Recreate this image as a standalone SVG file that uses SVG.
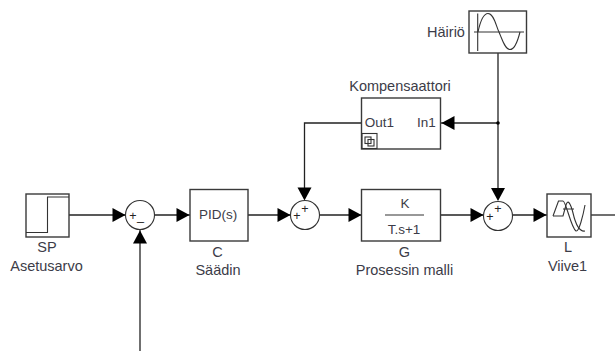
<svg xmlns="http://www.w3.org/2000/svg" width="615" height="351" viewBox="0 0 615 351">
<style>
.b{fill:#fff;stroke:#3a3a3a;stroke-width:1.4}
.s{fill:#fff;stroke:#333;stroke-width:1.1}
.i{fill:none;stroke:#333;stroke-width:1.1}
.w{fill:none;stroke:#222;stroke-width:1.3}
.a{fill:#000;stroke:none}
text{font-family:"Liberation Sans",Arial,sans-serif;font-size:14.5px;fill:#3c3c48;text-anchor:middle}
.p{font-size:13.5px}
.m{font-size:12.5px;fill:#222}
</style>
<defs>
<polygon id="ar" class="a" points="0,0 -13,-7 -13,7"/>
</defs>
<g id="connectors">
<path class="w" d="M498 53V190"/>
<path class="w" d="M498 123H441"/>
<path class="w" d="M361.500 123H304.500V190"/>
<path class="w" d="M69 215H126"/>
<path class="w" d="M154 215H190"/>
<path class="w" d="M248 215H291"/>
<path class="w" d="M319 215H362"/>
<path class="w" d="M441 215H484"/>
<path class="w" d="M512 215H547"/>
<path class="w" d="M591 215H615"/>
<path class="w" d="M140 351V230"/>
<circle cx="498" cy="123" r="1.800" fill="#000"/>
<use href="#ar" transform="translate(441.500 123) rotate(180)"/>
<use href="#ar" transform="translate(304.500 200.500) rotate(90)"/>
<use href="#ar" transform="translate(125.500 215)"/>
<use href="#ar" transform="translate(189.500 215)"/>
<use href="#ar" transform="translate(290.500 215)"/>
<use href="#ar" transform="translate(361.500 215)"/>
<use href="#ar" transform="translate(483.500 215)"/>
<use href="#ar" transform="translate(546.500 215)"/>
<use href="#ar" transform="translate(140 230.500) rotate(-90)"/>
<use href="#ar" transform="translate(498 201) rotate(90)"/>
</g>
<g id="hairio">
<rect class="b" x="469" y="11" width="57.500" height="42"/>
<path class="i" d="M477.700 13.500V51M474 32H524"/>
<path class="i" d="M478 32C481 18 484 13.500 488 13.500C494 13.500 496 26 499 32C502 39 505 49.500 510 49.500C515 49.500 518 40 520 32"/>
<text x="446" y="37">Häiriö</text>
</g>
<g id="kompensaattori">
<rect class="b" x="361.500" y="98" width="79" height="51"/>
<rect class="i" x="362" y="133.500" width="15" height="15"/>
<rect class="i" x="365" y="137" width="6" height="6.500"/>
<rect class="i" x="368" y="139.500" width="6" height="6.500"/>
<text x="400" y="90.500">Kompensaattori</text>
<text class="p" x="379.500" y="127">Out1</text>
<text class="p" x="426.500" y="127">In1</text>
</g>
<g id="sp">
<rect class="b" x="26" y="194" width="43" height="43"/>
<path class="i" d="M26 232.500H47.500V197H69"/>
<text x="47" y="252">SP</text>
<text x="46.500" y="271">Asetusarvo</text>
</g>
<g id="sum1">
<circle class="s" cx="140" cy="215" r="14.500"/>
<text class="m" x="133" y="219.500">+</text>
<text class="m" x="140.500" y="220">_</text>
</g>
<g id="c">
<rect class="b" x="190" y="189.500" width="58" height="51.500"/>
<text class="p" x="218" y="219">PID(s)</text>
<text x="217.500" y="256.500">C</text>
<text x="218" y="275">Säädin</text>
</g>
<g id="sum2">
<circle class="s" cx="305" cy="215" r="14.500"/>
<text class="m" x="297" y="220">+</text>
<text class="m" x="305" y="212.500">+</text>
</g>
<g id="g">
<rect class="b" x="361.500" y="189.500" width="79" height="51.500"/>
<path class="i" d="M385 215H424"/>
<text class="p" x="405" y="207.500">K</text>
<text class="p" x="404" y="234">T.s+1</text>
<text x="404.500" y="256.500">G</text>
<text x="404.500" y="275">Prosessin malli</text>
</g>
<g id="sum3">
<circle class="s" cx="498" cy="216" r="14.500"/>
<text class="m" x="490" y="220.500">+</text>
<text class="m" x="498" y="213">+</text>
</g>
<g id="l">
<rect class="b" x="547" y="194" width="44" height="43"/>
<path class="i" d="M553 216L558.500 201H563C566 201 571 228 576 231C579 232 583 216 585 205"/>
<path class="i" d="M553 216H563L566 205C568 198 571 205 573 213C576 226 580 232 585 231M563 209H574"/>
<text x="568" y="252">L</text>
<text x="567.500" y="271">Viive1</text>
</g>
</svg>
